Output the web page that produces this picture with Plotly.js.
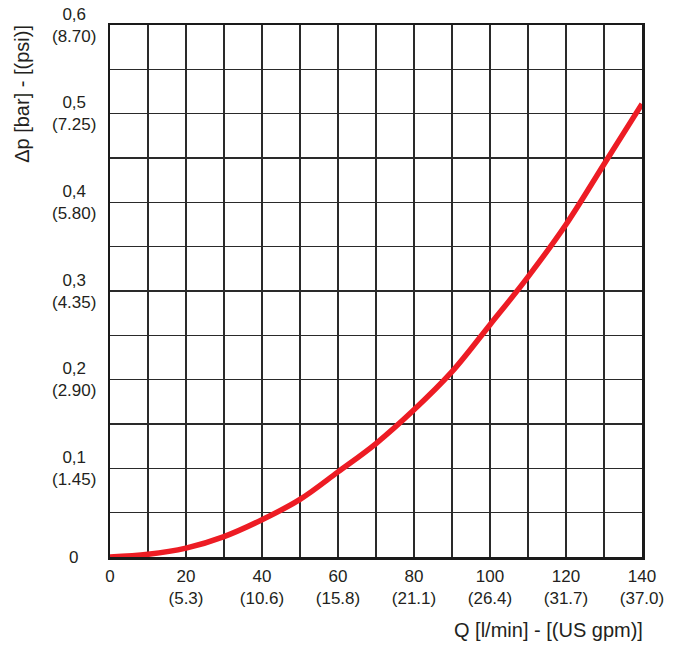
<!DOCTYPE html>
<html>
<head>
<meta charset="utf-8">
<script src="https://cdn.plot.ly/plotly-3.0.1.min.js"></script>
<style>
  html, body { margin: 0; padding: 0; background: #fff; }
  #chart { width: 681px; height: 645px; }
</style>
</head>
<body>
<div id="chart"></div>
<script>
// Flow rate Q [l/min]
const flowQ = [0, 10, 20, 30, 40, 50, 60, 70, 80, 90, 100, 110, 120, 130, 140];
// Pressure drop Δp [bar]
const pressureDrop = [0, 0.003, 0.010, 0.023, 0.042, 0.065, 0.096, 0.128, 0.166, 0.209, 0.262, 0.316, 0.375, 0.443, 0.511];

// X tick labels (l/min and US gpm)
const xTickVals = [0, 20, 40, 60, 80, 100, 120, 140];
const xTickText = ["0", "20<br>(5.3)", "40<br>(10.6)", "60<br>(15.8)", "80<br>(21.1)", "100<br>(26.4)", "120<br>(31.7)", "140<br>(37.0)"];

// Y tick labels (bar and psi)
const yTickVals = [0, 0.1, 0.2, 0.3, 0.4, 0.5, 0.6];
const yTickText = ["0", "0,1<br>(1.45)", "0,2<br>(2.90)", "0,3<br>(4.35)", "0,4<br>(5.80)", "0,5<br>(7.25)", "0,6<br>(8.70)"];

const xTitle = "Q [l/min] - [(US gpm)]";
const yTitle = "Δp [bar] - [(psi)]";

const textColor = "#231f20";
const gridColor = "#2a2a2a";
const fontFamily = "Arial, 'Liberation Sans', Helvetica, sans-serif";

const trace = {
  x: flowQ,
  y: pressureDrop,
  type: "scatter",
  mode: "lines",
  line: { color: "#ed1c24", width: 5.5, shape: "spline", smoothing: 1 },
  hoverinfo: "skip"
};

const annotations = yTickVals.map((v, i) => ({
  xref: "paper", yref: "y",
  x: -0.068, y: v,
  text: yTickText[i],
  showarrow: false,
  xanchor: "center", yanchor: "middle",
  align: "center",
  font: { family: fontFamily, size: 17, color: textColor }
}));

annotations.push({
  xref: "paper", yref: "paper",
  x: 1.005, y: -0.138,
  text: xTitle,
  showarrow: false,
  xanchor: "right", yanchor: "middle",
  font: { family: fontFamily, size: 20, color: textColor }
});

annotations.push({
  xref: "paper", yref: "paper",
  x: -0.166, y: 0.87,
  text: yTitle,
  textangle: -90,
  showarrow: false,
  xanchor: "center", yanchor: "middle",
  font: { family: fontFamily, size: 20, color: textColor }
});

const layout = {
  width: 681,
  height: 645,
  margin: { l: 110, r: 39, t: 25, b: 88 },
  paper_bgcolor: "#ffffff",
  plot_bgcolor: "#ffffff",
  showlegend: false,
  font: { family: fontFamily, size: 17, color: textColor },
  xaxis: {
    range: [0, 140],
    tickmode: "array",
    tickvals: xTickVals,
    ticktext: xTickText,
    ticks: "",
    ticklabelstandoff: 2,
    showgrid: true,
    gridcolor: gridColor,
    gridwidth: 1.3,
    minor: { dtick: 10, tick0: 0, showgrid: true, gridcolor: gridColor, gridwidth: 1.3 },
    showline: true,
    mirror: true,
    linecolor: "#1a1a1a",
    linewidth: 2.5,
    zeroline: false,
    tickfont: { family: fontFamily, size: 17, color: textColor },
    fixedrange: true
  },
  yaxis: {
    range: [0, 0.6],
    tickmode: "array",
    tickvals: yTickVals,
    showticklabels: false,
    ticks: "",
    showgrid: true,
    gridcolor: gridColor,
    gridwidth: 1.3,
    minor: { dtick: 0.05, tick0: 0, showgrid: true, gridcolor: gridColor, gridwidth: 1.3 },
    showline: true,
    mirror: true,
    linecolor: "#1a1a1a",
    linewidth: 2.5,
    zeroline: false,
    fixedrange: true
  },
  annotations: annotations
};

Plotly.newPlot("chart", [trace], layout, { displayModeBar: false, staticPlot: true });
</script>
</body>
</html>
